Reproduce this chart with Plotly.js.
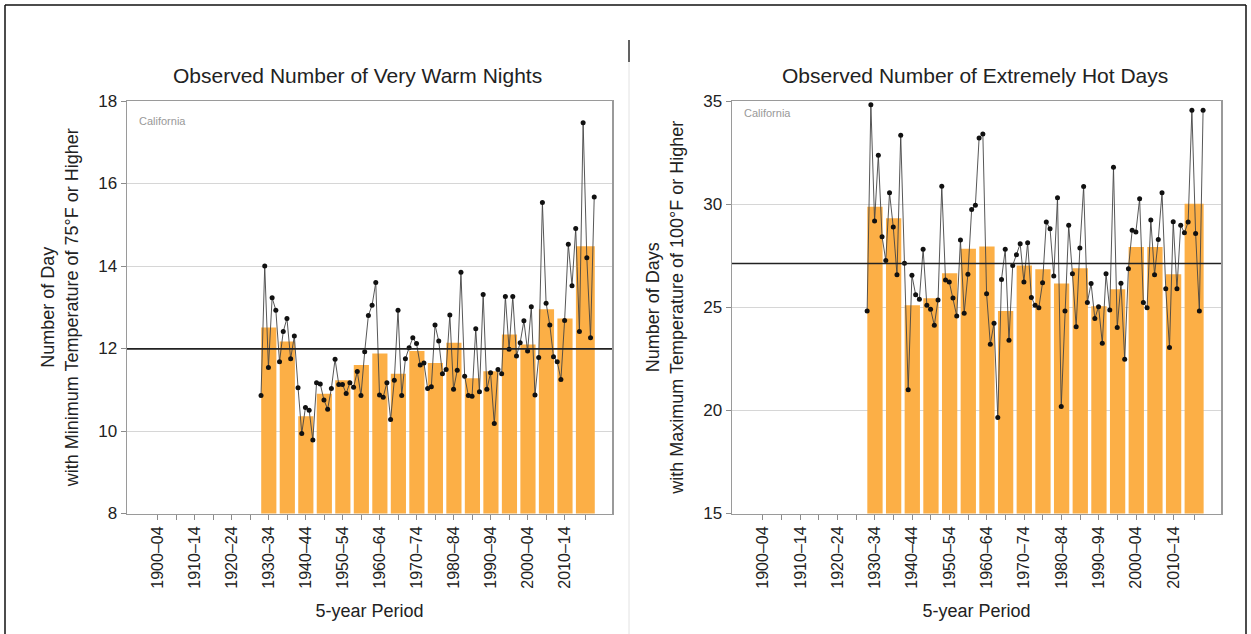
<!DOCTYPE html>
<html>
<head>
<meta charset="utf-8">
<script src="https://cdn.plot.ly/plotly-3.0.1.min.js"></script>
<style>
  html, body { margin: 0; padding: 0; background: #ffffff; }
  #chart { width: 1251px; height: 634px; }
</style>
</head>
<body>
<div id="chart"></div>
<script>
// ---------- data ----------
const periodLabels = ["1900–04","1905–09","1910–14","1915–19","1920–24","1925–29",
  "1930–34","1935–39","1940–44","1945–49","1950–54","1955–59","1960–64","1965–69",
  "1970–74","1975–79","1980–84","1985–89","1990–94","1995–99","2000–04","2005–09",
  "2010–14","2015–20"];
const periodStart = [1900,1905,1910,1915,1920,1925,1930,1935,1940,1945,1950,1955,
  1960,1965,1970,1975,1980,1985,1990,1995,2000,2005,2010,2015];
const periodEnd = [1904,1909,1914,1919,1924,1929,1934,1939,1944,1949,1954,1959,
  1964,1969,1974,1979,1984,1989,1994,1999,2004,2009,2014,2020];
const labeledPeriods = ["1900–04","1910–14","1920–24","1930–34","1940–44","1950–54",
  "1960–64","1970–74","1980–84","1990–94","2000–04","2010–14"];

// 5-year averages (null = no data)
const nightsAvg = [null,null,null,null,null,null,
  12.51,12.17,10.36,10.90,11.23,11.60,11.88,11.39,11.94,11.65,12.14,11.28,
  11.45,12.34,12.10,12.95,12.73,14.48];
const hotAvg = [null,null,null,null,null,null,
  29.87,29.31,25.10,25.44,26.65,27.84,27.94,24.82,27.03,26.84,26.15,26.89,
  25.05,25.87,27.92,27.92,26.60,30.02];

const years = [1930,1931,1932,1933,1934,1935,1936,1937,1938,1939,1940,1941,1942,1943,1944,
  1945,1946,1947,1948,1949,1950,1951,1952,1953,1954,1955,1956,1957,1958,1959,
  1960,1961,1962,1963,1964,1965,1966,1967,1968,1969,1970,1971,1972,1973,1974,
  1975,1976,1977,1978,1979,1980,1981,1982,1983,1984,1985,1986,1987,1988,1989,
  1990,1991,1992,1993,1994,1995,1996,1997,1998,1999,2000,2001,2002,2003,2004,
  2005,2006,2007,2008,2009,2010,2011,2012,2013,2014,2015,2016,2017,2018,2019,2020];

const nightsAnnual = [10.86,14.00,11.54,13.23,12.93, 11.68,12.41,12.73,11.75,12.30,
  11.05,9.94,10.57,10.50,9.78, 11.17,11.14,10.75,10.53,11.03,
  11.74,11.13,11.13,10.91,11.17, 11.06,11.44,10.86,11.92,12.80,
  13.05,13.60,10.87,10.82,11.17, 10.28,11.23,12.93,10.86,11.75,
  12.02,12.26,12.12,11.60,11.65, 11.03,11.07,12.57,12.18,11.39,
  11.49,12.81,11.01,11.47,13.85, 11.33,10.86,10.84,12.48,10.95,
  13.31,11.01,11.41,10.18,11.49, 11.39,13.26,11.98,13.26,11.82,
  12.14,12.67,11.94,13.01,10.87, 11.78,15.54,13.10,12.57,11.80,
  11.68,11.25,12.68,14.53,13.52, 14.91,12.41,17.47,14.20,12.26,15.67];

const hotAnnual = [24.82,34.82,29.18,32.37,28.42, 27.27,30.55,28.89,26.58,33.34,
  27.13,21.00,26.55,25.61,25.39, 27.81,25.10,24.90,24.13,25.35,
  30.87,26.32,26.23,25.45,24.58, 28.26,24.71,26.60,29.74,29.94,
  33.21,33.40,25.66,23.21,24.23, 19.65,26.35,27.81,23.40,27.03,
  27.55,28.08,26.23,28.13,25.47, 25.10,24.98,26.19,29.13,28.81,
  26.52,30.31,20.19,24.82,28.97, 26.63,24.06,27.87,30.85,25.23,
  26.15,24.45,25.03,23.26,26.63, 24.87,31.79,24.02,26.16,22.48,
  26.87,28.73,28.65,30.26,25.23, 24.97,29.23,26.58,28.29,30.55,
  25.90,23.05,29.15,25.90,28.98, 28.61,29.13,34.55,28.58,24.82,34.55];

const nightsMean = 11.99;
const hotMean = 27.12;

const panelTitles = ["Observed Number of Very Warm Nights", "Observed Number of Extremely Hot Days"];
const yTitles = ["Number of Day<br>with Minimum Temperature of 75°F or Higher",
                 "Number of Days<br>with Maximum Temperature of 100°F or Higher"];
const xTitle = "5-year Period";
const regionLabel = "California";

// ---------- derived geometry ----------
const centers = periodStart.map((s, i) => (s + periodEnd[i]) / 2 + 0.1);
const widths = periodStart.map((s, i) => (periodEnd[i] - s + 1) - 0.9);
const tickText = periodLabels.map(l => labeledPeriods.includes(l) ? l : "");

const W = 1251, H = 634;
const px = v => v / W;
const py = v => (H - v) / H;

const BAR_COLOR = "#FCAF46";
const FONT = "Liberation Sans, Arial, sans-serif";

function barTrace(vals, xa, ya) {
  return { type: "bar", x: centers, y: vals, width: widths, xaxis: xa, yaxis: ya,
    marker: { color: BAR_COLOR, line: { width: 0 } }, hoverinfo: "x+y" };
}
function lineTrace(vals, xa, ya) {
  return { type: "scatter", mode: "lines+markers", x: years, y: vals, xaxis: xa, yaxis: ya,
    line: { color: "#444444", width: 0.9 },
    marker: { color: "#111111", size: 5 } };
}

const data = [
  barTrace(nightsAvg, "x", "y"), lineTrace(nightsAnnual, "x", "y"),
  barTrace(hotAvg, "x2", "y2"), lineTrace(hotAnnual, "x2", "y2")
];

function xAxis(domain, anchor) {
  return { domain: domain, anchor: anchor, range: [1893.8, 2024.8],
    tickmode: "array", tickvals: centers, ticktext: tickText, tickangle: -90,
    ticks: "outside", ticklen: 5, tickcolor: "#8c8c8c", tickwidth: 1,
    tickfont: { size: 16, color: "#222", family: FONT },
    showline: true, mirror: true, linecolor: "#9a9a9a", linewidth: 1.5,
    showgrid: false, zeroline: false, fixedrange: true,
    title: { text: xTitle, font: { size: 18, color: "#222", family: FONT }, standoff: 16 } };
}
function yAxis(domain, anchor, range, dtick, title) {
  return { domain: domain, anchor: anchor, range: range, dtick: dtick,
    ticks: "outside", ticklen: 5, tickcolor: "#8c8c8c", tickwidth: 1,
    tickfont: { size: 17, color: "#222", family: FONT },
    showline: true, mirror: true, linecolor: "#9a9a9a", linewidth: 1.5,
    showgrid: true, gridcolor: "#d6d6d6", gridwidth: 1, zeroline: false, fixedrange: true,
    title: { text: title, font: { size: 18, color: "#222", family: FONT }, standoff: 15 } };
}

const yDom = [py(513.5), py(101)];
const layout = {
  width: W, height: H,
  margin: { l: 0, r: 0, t: 0, b: 0 },
  paper_bgcolor: "#ffffff", plot_bgcolor: "#ffffff",
  showlegend: false, barmode: "overlay",
  font: { family: FONT, color: "#222" },
  xaxis: xAxis([px(127), px(612)], "y"),
  yaxis: yAxis(yDom, "x", [8, 18], 2, yTitles[0]),
  xaxis2: xAxis([px(732), px(1221)], "y2"),
  yaxis2: yAxis(yDom, "x2", [15, 35], 5, yTitles[1]),
  shapes: [
    { type: "line", xref: "x domain", yref: "y", x0: 0, x1: 1, y0: nightsMean, y1: nightsMean,
      line: { color: "#222", width: 1.6 } },
    { type: "line", xref: "x2 domain", yref: "y2", x0: 0, x1: 1, y0: hotMean, y1: hotMean,
      line: { color: "#222", width: 1.6 } },
    // page frame
    { type: "line", xref: "paper", yref: "paper", x0: px(5), x1: px(1246), y0: py(5), y1: py(5),
      line: { color: "#111", width: 1.5 } },
    { type: "line", xref: "paper", yref: "paper", x0: px(5), x1: px(5), y0: py(5), y1: py(640),
      line: { color: "#111", width: 1.5 } },
    { type: "line", xref: "paper", yref: "paper", x0: px(1246), x1: px(1246), y0: py(5), y1: py(640),
      line: { color: "#111", width: 1.5 } },
    { type: "line", xref: "paper", yref: "paper", x0: px(629), x1: px(629), y0: py(40), y1: py(640),
      line: { color: "#e2e2e2", width: 1 } },
    { type: "line", xref: "paper", yref: "paper", x0: px(629), x1: px(629), y0: py(40), y1: py(62),
      line: { color: "#333", width: 1.5 } }
  ],
  annotations: [
    { xref: "x domain", yref: "paper", x: 0.475, y: py(75), text: panelTitles[0], showarrow: false,
      xanchor: "center", yanchor: "middle", font: { size: 21, color: "#222", family: FONT } },
    { xref: "x2 domain", yref: "paper", x: 0.497, y: py(75), text: panelTitles[1], showarrow: false,
      xanchor: "center", yanchor: "middle", font: { size: 21, color: "#222", family: FONT } },
    { xref: "x domain", yref: "paper", x: 0.02, y: py(121), text: regionLabel, showarrow: false,
      xanchor: "left", yanchor: "middle", font: { size: 11, color: "#999", family: FONT } },
    { xref: "x2 domain", yref: "paper", x: 0.02, y: py(113), text: regionLabel, showarrow: false,
      xanchor: "left", yanchor: "middle", font: { size: 11, color: "#999", family: FONT } }
  ]
};

Plotly.newPlot("chart", data, layout, { displayModeBar: false, staticPlot: true });
</script>
</body>
</html>
